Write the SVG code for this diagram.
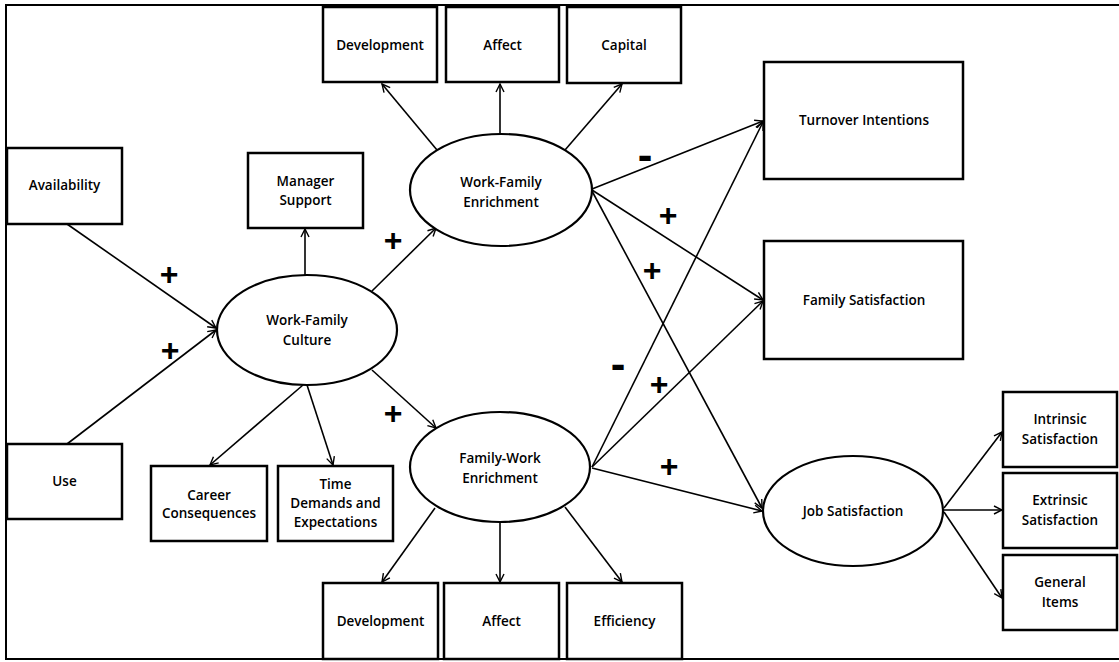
<svg xmlns="http://www.w3.org/2000/svg" width="1119" height="662" viewBox="0 0 1119 662">
<defs>
<style>
.box{fill:#fff;stroke:#000;stroke-width:2.5}
.ell{fill:#fff;stroke:#000;stroke-width:2.2}
.lbl{font-family:"Open Sans","Liberation Sans",sans-serif;font-size:13.5px;font-weight:600;fill:#000;text-anchor:middle}
.edge{stroke:#000;stroke-width:1.6;fill:none;marker-end:url(#ah)}
.sign{font-family:"Liberation Sans",sans-serif;font-size:32px;font-weight:bold;fill:#000;text-anchor:middle}
.minus{font-family:"Liberation Sans",sans-serif;font-size:44px;font-weight:bold;fill:#000;text-anchor:middle}
</style>
<marker id="ah" markerWidth="10" markerHeight="10" refX="9" refY="5" orient="auto" markerUnits="userSpaceOnUse">
<path d="M1,1 L9,5 L1,9" fill="none" stroke="#000" stroke-width="1.4"/>
</marker>
</defs>
<rect x="0" y="0" width="1119" height="662" fill="#fff"/>
<rect x="6" y="5" width="1125" height="654" fill="none" stroke="#000" stroke-width="2"/>

<g id="connectors">
<line class="edge" x1="67" y1="224" x2="216" y2="328"/>
<line class="edge" x1="67" y1="444" x2="216" y2="330"/>
<line class="edge" x1="305" y1="276" x2="305" y2="229"/>
<line class="edge" x1="372" y1="291" x2="436" y2="228"/>
<line class="edge" x1="372" y1="370" x2="436" y2="428"/>
<line class="edge" x1="303" y1="385" x2="210" y2="465"/>
<line class="edge" x1="307" y1="385" x2="333" y2="465"/>
<line class="edge" x1="437" y1="150" x2="382" y2="84"/>
<line class="edge" x1="500" y1="135" x2="500" y2="84"/>
<line class="edge" x1="565" y1="150" x2="622" y2="84"/>
<line class="edge" x1="592" y1="189" x2="763" y2="121"/>
<line class="edge" x1="592" y1="190" x2="763" y2="300"/>
<line class="edge" x1="592" y1="191" x2="762" y2="508"/>
<line class="edge" x1="592" y1="467" x2="763" y2="122"/>
<line class="edge" x1="592" y1="467" x2="763" y2="301"/>
<line class="edge" x1="592" y1="468" x2="762" y2="511"/>
<line class="edge" x1="435" y1="508" x2="382" y2="582"/>
<line class="edge" x1="500" y1="522" x2="500" y2="582"/>
<line class="edge" x1="565" y1="507" x2="622" y2="582"/>
<line class="edge" x1="944" y1="508" x2="1002" y2="432"/>
<line class="edge" x1="944" y1="510" x2="1002" y2="510"/>
<line class="edge" x1="944" y1="512" x2="1002" y2="598"/>
</g>

<g id="signs">
<text class="sign" x="169" y="285">+</text>
<text class="sign" x="170" y="361">+</text>
<text class="sign" x="393" y="251">+</text>
<text class="sign" x="393" y="424">+</text>
<text class="minus" x="645" y="170">-</text>
<text class="sign" x="668" y="226">+</text>
<text class="sign" x="652" y="281">+</text>
<text class="minus" x="618" y="379">-</text>
<text class="sign" x="659" y="395">+</text>
<text class="sign" x="669" y="477">+</text>
</g>

<g id="availability"><rect class="box" x="7" y="148" width="115" height="76"/><text class="lbl" x="64.5" y="190">Availability</text></g>
<g id="use"><rect class="box" x="7" y="444" width="115" height="75"/><text class="lbl" x="64.5" y="486">Use</text></g>
<g id="manager-support"><rect class="box" x="248" y="153" width="115" height="75"/><text class="lbl" x="305.5" y="186">Manager</text><text class="lbl" x="305.5" y="205">Support</text></g>
<g id="wf-development"><rect class="box" x="323" y="7" width="114" height="75"/><text class="lbl" x="380" y="50">Development</text></g>
<g id="wf-affect"><rect class="box" x="446" y="7" width="113" height="75"/><text class="lbl" x="502.5" y="50">Affect</text></g>
<g id="wf-capital"><rect class="box" x="567" y="7" width="114" height="76"/><text class="lbl" x="624" y="50">Capital</text></g>
<g id="turnover-intentions"><rect class="box" x="764" y="62" width="199" height="117"/><text class="lbl" x="864" y="125">Turnover Intentions</text></g>
<g id="family-satisfaction"><rect class="box" x="764" y="241" width="199" height="118"/><text class="lbl" x="864" y="305">Family Satisfaction</text></g>
<g id="career-consequences"><rect class="box" x="151" y="466" width="116" height="75"/><text class="lbl" x="209" y="500">Career</text><text class="lbl" x="209" y="518">Consequences</text></g>
<g id="time-demands"><rect class="box" x="278" y="466" width="115" height="75"/><text class="lbl" x="335.5" y="489">Time</text><text class="lbl" x="335.5" y="508">Demands and</text><text class="lbl" x="335.5" y="527">Expectations</text></g>
<g id="fw-development"><rect class="box" x="323" y="583" width="115" height="76"/><text class="lbl" x="380.5" y="626">Development</text></g>
<g id="fw-affect"><rect class="box" x="444" y="583" width="115" height="76"/><text class="lbl" x="501.5" y="626">Affect</text></g>
<g id="fw-efficiency"><rect class="box" x="567" y="583" width="115" height="76"/><text class="lbl" x="624.5" y="626">Efficiency</text></g>
<g id="intrinsic-satisfaction"><rect class="box" x="1003" y="392" width="114" height="75"/><text class="lbl" x="1060" y="424">Intrinsic</text><text class="lbl" x="1060" y="444">Satisfaction</text></g>
<g id="extrinsic-satisfaction"><rect class="box" x="1003" y="473" width="114" height="75"/><text class="lbl" x="1060" y="505">Extrinsic</text><text class="lbl" x="1060" y="525">Satisfaction</text></g>
<g id="general-items"><rect class="box" x="1003" y="555" width="114" height="75"/><text class="lbl" x="1060" y="587">General</text><text class="lbl" x="1060" y="607">Items</text></g>

<g id="work-family-culture"><ellipse class="ell" cx="307" cy="330" rx="90" ry="55"/><text class="lbl" x="307" y="325">Work-Family</text><text class="lbl" x="307" y="345">Culture</text></g>
<g id="work-family-enrichment"><ellipse class="ell" cx="501" cy="190" rx="91" ry="56"/><text class="lbl" x="501" y="187">Work-Family</text><text class="lbl" x="501" y="207">Enrichment</text></g>
<g id="family-work-enrichment"><ellipse class="ell" cx="500" cy="467" rx="90" ry="55"/><text class="lbl" x="500" y="463">Family-Work</text><text class="lbl" x="500" y="483">Enrichment</text></g>
<g id="job-satisfaction"><ellipse class="ell" cx="853" cy="511" rx="90" ry="55"/><text class="lbl" x="853" y="516">Job Satisfaction</text></g>
</svg>
